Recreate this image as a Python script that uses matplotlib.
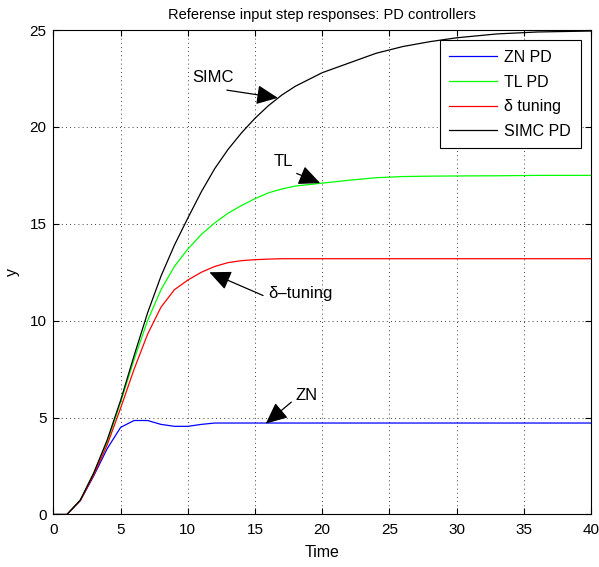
import numpy as np
import matplotlib
matplotlib.use('Agg')
import matplotlib.pyplot as plt

plt.rcParams['font.family'] = ['Liberation Sans', 'DejaVu Sans']

# time points
t = [0, 1, 2, 3, 4, 5, 6, 7, 8, 9, 10, 11, 12, 13, 14, 15, 16, 17, 18,
     20, 22, 24, 26, 28, 30, 33, 36, 40]

y_zn = [0, 0, 0.72, 2.0, 3.4, 4.5, 4.85, 4.85, 4.65, 4.55, 4.55, 4.65, 4.72, 4.72,
        4.72, 4.72, 4.72, 4.72, 4.72, 4.72, 4.72, 4.72, 4.72, 4.72, 4.72, 4.72, 4.72, 4.72]
y_tl = [0, 0, 0.75, 2.15, 3.75, 5.8, 8.0, 10.0, 11.6, 12.8, 13.7, 14.45, 15.05, 15.55,
        15.95, 16.3, 16.6, 16.8, 16.95, 17.1, 17.25, 17.38, 17.44, 17.46, 17.47, 17.48, 17.5, 17.5]
y_delta = [0, 0, 0.72, 2.05, 3.6, 5.5, 7.5, 9.3, 10.7, 11.6, 12.1, 12.5, 12.8, 13.0,
           13.1, 13.15, 13.18, 13.2, 13.2, 13.2, 13.2, 13.2, 13.2, 13.2, 13.2, 13.2, 13.2, 13.2]
y_simc = [0, 0, 0.75, 2.15, 3.85, 5.9, 8.2, 10.4, 12.3, 13.9, 15.3, 16.65, 17.85, 18.85,
          19.7, 20.45, 21.1, 21.65, 22.1, 22.8, 23.3, 23.8, 24.15, 24.4, 24.6, 24.8, 24.9, 24.95]

# annotations: text, text centre, arrow tail, arrow tip (data units)
notes = [('SIMC', (11.9, 22.57), (12.9, 21.9), (16.7, 21.5)),
         ('TL', (17.1, 18.2), (18.1, 17.6), (19.85, 17.1)),
         ('δ–tuning', (18.4, 11.4), (15.6, 11.3), (11.6, 12.5)),
         ('ZN', (18.8, 6.14), (17.7, 5.8), (15.8, 4.69))]

fig = plt.figure(figsize=(5.99, 5.67), dpi=100)
ax = fig.add_axes([0.0893, 0.0926, 0.8973, 0.8544])

ax.plot(t, y_zn, color=(0, 0, 1), linewidth=0.9, label='ZN PD')
ax.plot(t, y_tl, color=(0, 1, 0), linewidth=0.9, label='TL PD')
ax.plot(t, y_delta, color=(1, 0, 0), linewidth=0.9, label='δ tuning')
ax.plot(t, y_simc, color='k', linewidth=0.9, label='SIMC PD')

ax.set_xlim(0, 40)
ax.set_ylim(0, 25)
ax.set_xticks(np.arange(0, 41, 5))
ax.set_yticks(np.arange(0, 26, 5))
ax.grid(True, linestyle=(0, (1, 4)), color='k', linewidth=0.6)
ax.tick_params(direction='in', top=True, right=True, labelsize=11, length=4)
ax.tick_params(axis='x', pad=6)
ax.tick_params(axis='y', pad=5)
ax.set_xlabel('Time', fontsize=11.5, labelpad=6)
ax.set_ylabel('y', fontsize=11.5, labelpad=7)
ax.set_title('Referense input step responses: PD controllers', fontsize=10.5, pad=8)

arr = dict(arrowstyle='-|>,head_length=1.1,head_width=0.5', color='k', lw=0.9,
           shrinkA=0, shrinkB=0, mutation_scale=12)
for txt, pos, tail, tip in notes:
    ax.text(pos[0], pos[1], txt, fontsize=12, ha='center', va='center')
    ax.annotate('', xy=tip, xytext=tail, arrowprops=arr)

leg = ax.legend(loc='upper right', fontsize=11.5, fancybox=False, framealpha=1,
                edgecolor='k', borderaxespad=0.65, handlelength=3.0,
                handletextpad=0.45, labelspacing=0.6, borderpad=0.6)
leg.get_frame().set_linewidth(0.8)

plt.savefig('out.png', dpi=100)
